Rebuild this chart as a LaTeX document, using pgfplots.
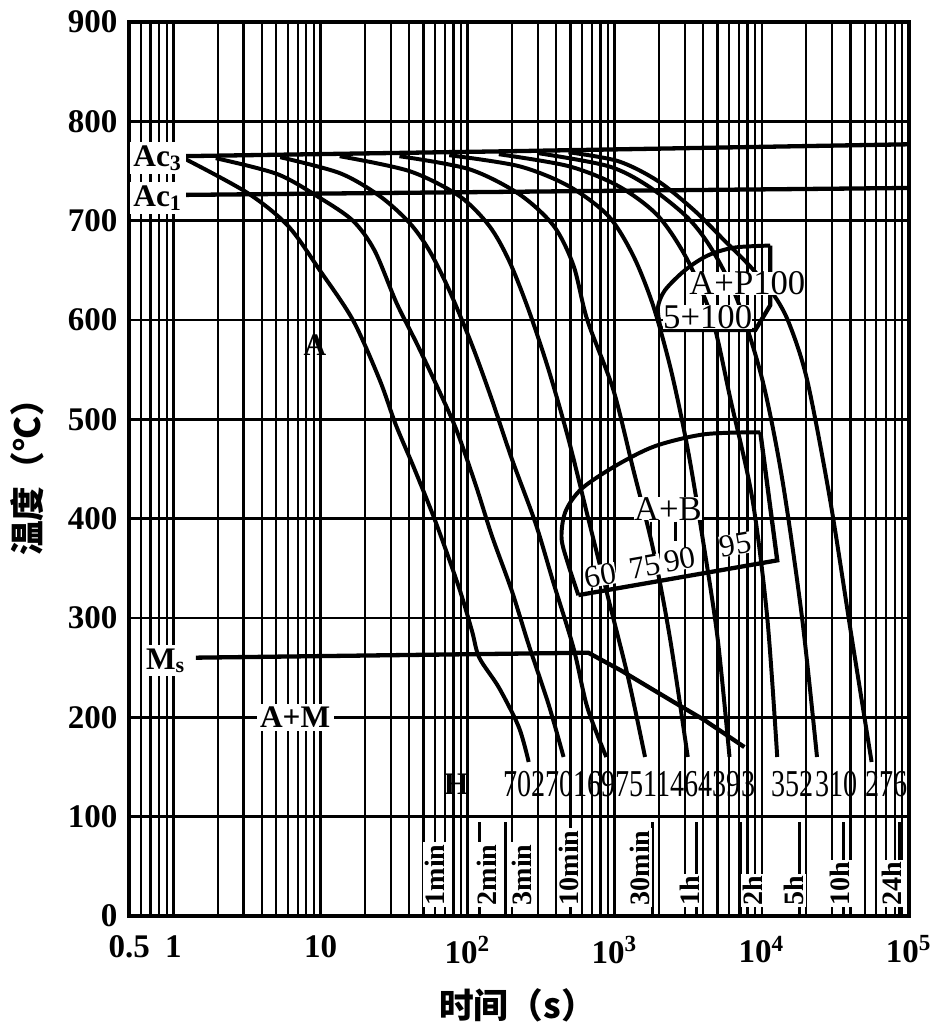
\documentclass[border=0pt]{standalone}
\usepackage{fontspec}
\setmainfont{Liberation Serif}
\newfontfamily\cjk{Noto Sans CJK SC}
\usepackage{pgfplots}
\pgfplotsset{compat=1.18}

\tikzset{
  cc/.style={black, line width=1.2pt, smooth, tension=0.5},
  tl/.style={black, line width=1.3pt},
  lab/.style={font=\bfseries\fontsize{9.5}{11}\selectfont, inner sep=1pt},
  hv/.style={font=\fontsize{9.5}{11}\selectfont, inner sep=0pt},
  hn/.style={font=\fontsize{11.5}{13}\selectfont, inner sep=0pt, xscale=0.74},
  tm/.style={font=\bfseries\fontsize{8.5}{10}\selectfont, rotate=90, anchor=west, fill=white, inner sep=0.6pt},
}

\begin{document}
\begin{tikzpicture}
\begin{axis}[
  scale only axis, width=236.1pt, height=270.6pt,
  xmode=log, xmin=0.5, xmax=100000, ymin=0, ymax=900,
  xtick={0.5,1,10,100,1000,10000,100000},
  xticklabels={0.5,1,10,10\textsuperscript{2},10\textsuperscript{3},10\textsuperscript{4},10\textsuperscript{5}},
  minor xtick={0.6,0.7,0.8,0.9,2,3,4,5,6,7,8,9,20,30,40,50,60,70,80,90,
    200,300,400,500,600,700,800,900,2000,3000,4000,5000,6000,7000,8000,9000,
    20000,30000,40000,50000,60000,70000,80000,90000},
  ytick={0,100,...,900},
  grid=both,
  major grid style={black, line width=0.8pt},
  minor grid style={black, line width=0.7pt},
  tick style={draw=none},
  axis line style={line width=1pt},
  tick label style={font=\bfseries\fontsize{10}{12}\selectfont},
  xticklabel style={yshift=-2.5pt},
  /pgf/number format/assume math mode=true,
  xlabel={\cjk\bfseries 时间（s）},
  ylabel={\cjk\bfseries 温度（℃）},
  xlabel style={at={(axis description cs:0.498,-0.1)}, anchor=center, font=\fontsize{10.5}{12}\selectfont},
  ylabel style={at={(axis description cs:-0.13,0.5)}, anchor=center, font=\fontsize{10.5}{12}\selectfont},
  clip=false,
]

% Ac3, Ac1, Ms
\addplot[tl] coordinates {(1.12,765) (191,770) (100000,777)};
\addplot[tl] coordinates {(1.12,726) (100000,733)};
\addplot[tl] coordinates {(1.42,260) (661,265) (1106,247) (2409,217) (4085,197) (7610,170)};

% cooling curves
\addplot[cc] coordinates {(1.21,762) (3.19,728) (6.0,695) (9.9,650) (16.6,600) (25.2,540) (32.4,495) (43.5,450) (61.2,395) (87.6,330) (107,287) (120,260) (163,230) (223,190) (260,155)};
\addplot[cc] coordinates {(1.94,763) (5.08,747) (9.9,723) (16.6,700) (23.3,670) (32.9,617) (44.9,577) (61.2,535) (83.6,490) (114,433) (146,383) (200,327) (260,273) (355,213) (449,160)};
\addplot[cc] coordinates {(5.32,764) (13.5,748) (25.2,725) (40.2,698) (54.9,670) (75,630) (107,575) (146,520) (200,460) (290,395) (384,335) (524,270) (651,210) (876,160)};
\addplot[cc] coordinates {(13.5,765) (40.2,750) (87.6,725) (140,695) (191,660) (260,610) (355,550) (485,480) (661,400) (903,320) (1233,240) (1607,160)};
\addplot[cc] coordinates {(34.4,765) (102,752) (223,727) (384,695) (524,655) (651,600) (977,530) (1334,450) (1820,370) (2372,280) (3136,160)};
\addplot[cc] coordinates {(75,766) (223,755) (485,735) (903,705) (1334,665) (1820,615) (2409,550) (3136,470) (3962,380) (5000,280) (6030,160)};
\addplot[cc] coordinates {(163,767) (485,755) (1056,735) (1967,705) (3136,660) (4627,600) (6125,520) (8620,420) (10890,300) (12725,160)};
\addplot[cc] coordinates {(304,768) (903,755) (1683,735) (3136,703) (4627,670) (6825,620) (10075,540) (13755,440) (18775,300) (23715,160)};
\addplot[cc] coordinates {(485,769) (1056,760) (1967,740) (3497,710) (5575,680) (8100,656) (11590,629) (15100,599) (20295,540) (29030,420) (40860,280) (55750,155)};

% pearlite region
\addplot[cc] coordinates {(11410,675) (6515,673) (4284,665) (2993,650) (2194,630) (1967,613) (2030,595) (2127,590)};
\addplot[tl] coordinates {(2127,590) (9035,590) (11410,615) (11410,675)};

% bainite region
\addplot[cc] coordinates {(9770,487) (4085,485) (1878,473) (1008,453) (594,430) (462,407) (435,380) (485,353) (566,323)};
\addplot[tl] coordinates {(566,323) (12725,358) (9770,487)};
\addplot[black, line width=0.9pt] coordinates {(1764,397) (1764,377)};
\addplot[black, line width=0.9pt] coordinates {(2605,397) (2605,377)};

% time marks at the bottom
\addplot[black, line width=0.8pt] coordinates {(60,0) (60,95)};
\addplot[black, line width=0.8pt] coordinates {(120,0) (120,95)};
\addplot[black, line width=0.8pt] coordinates {(180,0) (180,95)};
\addplot[black, line width=0.8pt] coordinates {(1800,0) (1800,95)};
\addplot[black, line width=0.8pt] coordinates {(3600,0) (3600,95)};
\addplot[black, line width=0.8pt] coordinates {(7200,0) (7200,95)};
\addplot[black, line width=0.8pt] coordinates {(18000,0) (18000,95)};
\addplot[black, line width=0.8pt] coordinates {(36000,0) (36000,95)};
\addplot[black, line width=0.8pt] coordinates {(86400,0) (86400,95)};

\node[tm] at (axis cs:60,8) {1min};
\node[tm] at (axis cs:135,8) {2min};
\node[tm] at (axis cs:234,8) {3min};
\node[tm] at (axis cs:485,8) {10min};
\node[tm] at (axis cs:1487,8) {30min};
\node[tm] at (axis cs:3235,8) {1h};
\node[tm] at (axis cs:8620,8) {2h};
\node[tm] at (axis cs:16575,8) {5h};
\node[tm] at (axis cs:33900,8) {10h};
\node[tm] at (axis cs:76100,8) {24h};

% region labels
\node[lab, fill=white] at (axis cs:0.785,763) {Ac\textsubscript{3}};
\node[lab, fill=white] at (axis cs:0.785,723) {Ac\textsubscript{1}};
\node[lab, fill=white] at (axis cs:0.889,257) {M\textsubscript{s}};
\node[lab] at (axis cs:9.18,575) {A};
\node[lab, fill=white] at (axis cs:6.72,200) {A+M};
\node[hv, fill=white, font=\fontsize{10.5}{12}\selectfont] at (axis cs:2299,410) {A+B};
\node[hv, fill=white, font=\fontsize{10.5}{12}\selectfont] at (axis cs:7975,637) {A+P100};
\node[hv, fill=white, font=\fontsize{10.5}{12}\selectfont] at (axis cs:4284,603) {5+100};
\node[hv, fill=white, rotate=10] at (axis cs:797,343) {60};
\node[hv, fill=white, rotate=10] at (axis cs:1607,352) {75};
\node[hv, fill=white, rotate=10] at (axis cs:2770,359) {90};
\node[hv, fill=white, rotate=10] at (axis cs:6615,374) {95};

% hardness
\node[lab] at (axis cs:83.6,133) {H};
\node[hn] at (axis cs:1253,133) {702701697511464393};
\node[hn] at (axis cs:16070,133) {352};
\node[hn] at (axis cs:32350,133) {310};
\node[hn] at (axis cs:70400,133) {276};
\end{axis}
\path ([xshift=-35.4pt, yshift=-33.9pt]current axis.south west) rectangle ([xshift=3.9pt, yshift=5.4pt]current axis.north east);
\end{tikzpicture}
\end{document}
